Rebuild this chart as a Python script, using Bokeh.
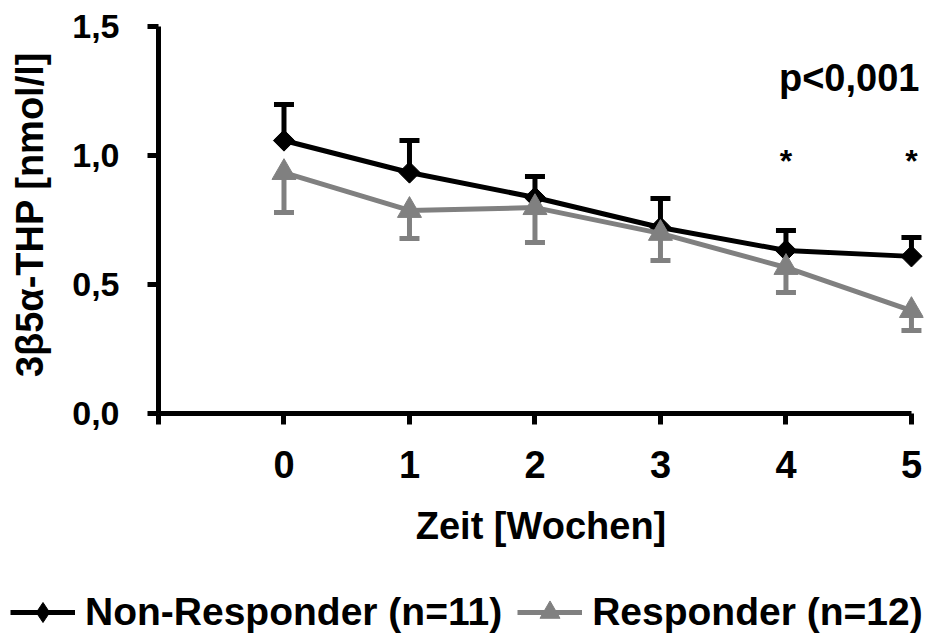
import numpy as np
from bokeh.plotting import figure
from bokeh.layouts import column
from bokeh.models import Range1d, Legend, LegendItem, FixedTicker, ColumnDataSource
from bokeh.core.properties import value
from bokeh.embed import file_html
from bokeh.resources import INLINE

# ---- data ----
weeks = [0, 1, 2, 3, 4, 5]
non_resp = [1.058, 0.934, 0.837, 0.721, 0.632, 0.609]
non_resp_upper = [1.198, 1.058, 0.919, 0.833, 0.709, 0.682]
resp = [0.934, 0.787, 0.798, 0.698, 0.566, 0.399]
resp_lower = [0.779, 0.678, 0.663, 0.593, 0.469, 0.322]
sig_weeks = [4, 5]
sig_y = [0.98, 0.98]
sig_marks = ["*", "*"]
p_text = ["p<0,001"]
p_x = [5]
p_y = [1.30]
x_ticks = [-1, 0, 1, 2, 3, 4, 5]
x_tick_labels = ["", "0", "1", "2", "3", "4", "5"]
y_ticks = [0, 0.5, 1.0, 1.5]
y_tick_labels = ["0,0", "0,5", "1,0", "1,5"]
series_names = ["Non-Responder (n=11)", "Responder (n=12)"]

FONT = "Liberation Sans"
BLACK = "#000000"
GRAY = "#808080"

p = figure(width=925, height=560, output_backend="svg", toolbar_location=None,
           x_range=Range1d(-1, 5.096), y_range=Range1d(0, 1.5426),
           min_border_left=158, min_border_right=2, min_border_top=15,
           min_border_bottom=147)
p.frame_align = False
p.outline_line_color = None
p.grid.visible = False
p.background_fill_color = "white"
p.border_fill_color = "white"

# axes
for ax in (p.xaxis[0], p.yaxis[0]):
    ax.axis_line_width = 5
    ax.axis_line_color = BLACK
    ax.major_tick_line_width = 5
    ax.major_tick_line_color = BLACK
    ax.major_tick_in = 0
    ax.major_tick_out = 11
    ax.minor_tick_line_color = None
    ax.major_label_text_font = FONT
    ax.major_label_text_font_style = "bold"
    ax.major_label_text_color = BLACK
    ax.axis_label_text_font = FONT
    ax.axis_label_text_font_style = "bold"
    ax.axis_label_text_color = BLACK

xa = p.xaxis[0]
xa.ticker = FixedTicker(ticks=x_ticks)
xa.major_label_overrides = {t: l for t, l in zip(x_ticks, x_tick_labels)}
xa.bounds = (-1, 5)
xa.axis_label = "Zeit [Wochen]"
xa.major_label_text_font_size = "38px"
xa.axis_label_text_font_size = "38px"
xa.major_label_standoff = 26
xa.axis_label_standoff = 24

ya = p.yaxis[0]
ya.ticker = FixedTicker(ticks=y_ticks)
ya.major_label_overrides = {t: l for t, l in zip(y_ticks, y_tick_labels)}
ya.bounds = (0, 1.5)
ya.axis_label = "3β5α-THP [nmol/l]"
ya.major_label_text_font_size = "34px"
ya.axis_label_text_font_size = "38px"
ya.major_label_standoff = 28
ya.axis_label_standoff = 18

src_n = ColumnDataSource(dict(x=weeks, y=non_resp, up=non_resp_upper))
src_r = ColumnDataSource(dict(x=weeks, y=resp, lo=resp_lower))

# Non-responder
p.segment(x0="x", y0="y", x1="x", y1="up", source=src_n, line_color=BLACK, line_width=5)
p.scatter(x="x", y="up", source=src_n, marker="dash", size=20, line_color=BLACK, line_width=5)
p.line(x="x", y="y", source=src_n, line_color=BLACK, line_width=5)
p.scatter(x="x", y="y", source=src_n, marker="square", angle=np.pi / 4, size=15,
          fill_color=BLACK, line_color=BLACK)

# Responder
p.segment(x0="x", y0="y", x1="x", y1="lo", source=src_r, line_color=GRAY, line_width=5)
p.scatter(x="x", y="lo", source=src_r, marker="dash", size=20, line_color=GRAY, line_width=5)
p.line(x="x", y="y", source=src_r, line_color=GRAY, line_width=5)
p.scatter(x="x", y="y", source=src_r, marker="triangle", size=24,
          fill_color=GRAY, line_color=GRAY)

# annotations
p.text(x=sig_weeks, y=sig_y, text=sig_marks, text_font=value(FONT), text_font_style="bold",
       text_font_size="32px", text_align="center", text_baseline="middle", text_color=BLACK)
p.text(x=p_x, y=p_y, text=p_text, text_font=value(FONT), text_font_style="bold",
       text_font_size="38px", text_align="right", text_baseline="middle", text_color=BLACK,
       x_offset=8)

# ---- legend strip (separate figure below the chart) ----
q = figure(width=925, height=81, output_backend="svg", toolbar_location=None,
           x_range=Range1d(0, 1), y_range=Range1d(0, 1),
           x_axis_location=None, y_axis_location=None,
           min_border_left=0, min_border_right=0, min_border_top=0, min_border_bottom=0)
q.frame_align = False
q.grid.visible = False
q.outline_line_color = None
q.background_fill_color = "white"
q.border_fill_color = "white"

lg_n = ColumnDataSource(dict(x=weeks, y=non_resp))
lg_r = ColumnDataSource(dict(x=weeks, y=resp))
l1 = q.line(x="x", y="y", source=lg_n, line_color=BLACK, line_width=5, visible=False)
s1 = q.scatter(x="x", y="y", source=lg_n, marker="diamond",
               fill_color=BLACK, line_color=BLACK, visible=False)
l2 = q.line(x="x", y="y", source=lg_r, line_color=GRAY, line_width=5, visible=False)
s2 = q.scatter(x="x", y="y", source=lg_r, marker="triangle",
               fill_color=GRAY, line_color=GRAY, visible=False)

legend = Legend(items=[LegendItem(label=series_names[0], renderers=[l1, s1]),
                       LegendItem(label=series_names[1], renderers=[l2, s2])],
                orientation="horizontal", location=(10, 4),
                glyph_width=65, glyph_height=50, label_standoff=10, spacing=15,
                padding=0, margin=0, border_line_color=None, background_fill_alpha=0,
                inactive_fill_alpha=0,
                label_text_font=FONT, label_text_font_style="bold",
                label_text_font_size="39px", label_text_color=BLACK)
q.add_layout(legend, "center")

layout = column(p, q, spacing=0)
open("out.html", "w").write(file_html(layout, INLINE))
